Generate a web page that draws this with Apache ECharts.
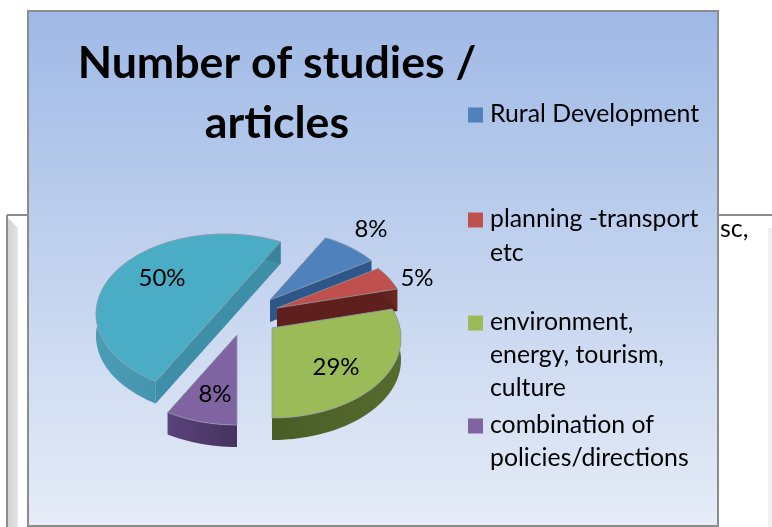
<!DOCTYPE html>
<html><head><meta charset="utf-8">
<style>html,body{margin:0;padding:0;background:#fff}#c{width:772px;height:527px}</style>
<script src="https://cdn.jsdelivr.net/npm/echarts@6/dist/echarts.min.js"></script>
</head><body><div id="c"></div>
<script>
const titleText = 'Number of studies /\narticles';
const categories = ['Rural Development', 'planning -transport\netc', 'environment,\nenergy, tourism,\nculture', 'combination of\npolicies/directions', 'other'];
const shares = [8, 5, 29, 8, 50];
const startAngle = 28.8;

const topColors = ['#4f81bd', '#c0504d', '#9bbb59', '#8064a2', '#4bacc6'];
const cutColors = ['#2f5688', '#5f201d', '#4f6228', '#4e3a6b', '#3f8ea8'];
const arcColors = [['#2f5688', '#2f5688'], ['#5f201d', '#6a2725'], ['#4a5c26', '#566b2e'], ['#5a427a', '#463360'], ['#4a9db6', '#3a8199']];
const apexes = [[270, 300], [277, 308], [272, 328], [237, 335], [225, 304]];
const labelPos = [[371, 229], [417, 278], [336, 367], [215, 394], [162, 278]];
const legendRows = [[114], [219, 253], [322, 355, 388], [425, 458]];
const RX = 128, RY = 78.75, K = 0.125, DEPTH = 22;
const FONT = 'Lato, Carlito, Calibri, sans-serif';

function project(apex, deg) {
  const a = deg * Math.PI / 180, u = Math.sin(a), v = -Math.cos(a), d = 1 - K * v;
  return [apex[0] + RX * u / d, apex[1] + RY * v / d];
}
const total = shares.reduce((s, x) => s + x, 0);

function renderSlice(params, api) {
  const i = params.dataIndex, val = api.value(0);
  let from = startAngle;
  for (let j = 0; j < i; j++) from += shares[j] / total * 360;
  const to = from + val / total * 360;
  const apex = apexes[i];
  const arc = [];
  for (let d = from; d < to; d += 2) arc.push(project(apex, d));
  arc.push(project(apex, to));
  const top = [apex].concat(arc);
  const down = p => [p[0], p[1] + DEPTH];
  const arcFill = { type: 'linear', x: 0, y: 0, x2: 1, y2: 0, colorStops: [{ offset: 0, color: arcColors[i][0] }, { offset: 1, color: arcColors[i][1] }] };
  const first = arc[0], last = arc[arc.length - 1];
  const children = [
    { type: 'polygon', shape: { points: [apex, first, down(first), down(apex)] }, style: { fill: cutColors[i] } },
    { type: 'polygon', shape: { points: [apex, last, down(last), down(apex)] }, style: { fill: cutColors[i] } },
    { type: 'polygon', shape: { points: arc.concat(arc.map(down).reverse()) }, style: { fill: arcFill } },
    { type: 'polygon', shape: { points: [apex, first, down(first), down(apex)] }, style: { fill: i === 4 ? 'rgba(0,0,0,0)' : cutColors[i] } },
    { type: 'polygon', shape: { points: top }, style: { fill: topColors[i], stroke: '#8f9ca8', lineWidth: 0.8 } },
    { type: 'text', x: labelPos[i][0], y: labelPos[i][1], z2: 50, style: { text: val + '%', font: '400 24px ' + FONT, fill: '#000', textAlign: 'center', textVerticalAlign: 'middle' } }
  ];
  return { type: 'group', children };
}

const graphics = [
  { type: 'line', shape: { x1: 7, y1: 215, x2: 772, y2: 215 }, style: { stroke: '#8c8c8c', lineWidth: 2 }, z: 0 },
  { type: 'line', shape: { x1: 7, y1: 215, x2: 7, y2: 527 }, style: { stroke: '#8c8c8c', lineWidth: 2 }, z: 0 },
  { type: 'polygon', shape: { points: [[8, 218], [18, 228], [18, 527], [8, 527]] }, style: { fill: { type: 'linear', x: 0, y: 0, x2: 1, y2: 0, colorStops: [{ offset: 0, color: '#d2d2d2' }, { offset: 1, color: '#e4e4e4' }] } }, z: 0 },
  { type: 'rect', shape: { x: 768, y: 228, width: 4, height: 299 }, style: { fill: '#f0f0f0' }, z: 0 },
  { type: 'text', x: 720, y: 229, style: { text: 'sc,', font: '400 25px ' + FONT, fill: '#000', textVerticalAlign: 'middle' }, z: 0 },
  { type: 'rect', shape: { x: 28, y: 11, width: 690, height: 515 }, style: { fill: { type: 'linear', x: 0, y: 0, x2: 0, y2: 1, colorStops: [{ offset: 0, color: '#9fb9e6' }, { offset: 1, color: '#e6ecf7' }] }, stroke: '#8c8c8c', lineWidth: 2 }, z: 1 }
];
legendRows.forEach((rows, i) => {
  const lines = categories[i].split('\n');
  graphics.push({ type: 'rect', shape: { x: 468, y: rows[0] - 6.5, width: 15, height: 15 }, style: { fill: topColors[i] }, z: 2 });
  rows.forEach((y, j) => graphics.push({ type: 'text', x: 490, y, style: { text: lines[j], font: '400 24.8px ' + FONT, fill: '#000', textVerticalAlign: 'middle' }, z: 2 }));
});

const chart = echarts.init(document.getElementById('c'), null, { renderer: 'canvas' });
chart.setOption({
  animation: false,
  backgroundColor: '#fff',
  title: { text: titleText, left: 272, top: 29, textAlign: 'center', z: 3, textStyle: { fontFamily: FONT, fontWeight: 700, fontSize: 44.7, lineHeight: 60, color: '#000', align: 'center' } },
  graphic: graphics,
  series: [{ type: 'custom', coordinateSystem: 'none', z: 3, data: shares.slice().map((v, i) => ({ name: categories[i], value: [v] })), renderItem: renderSlice }]
});
</script></body></html>
